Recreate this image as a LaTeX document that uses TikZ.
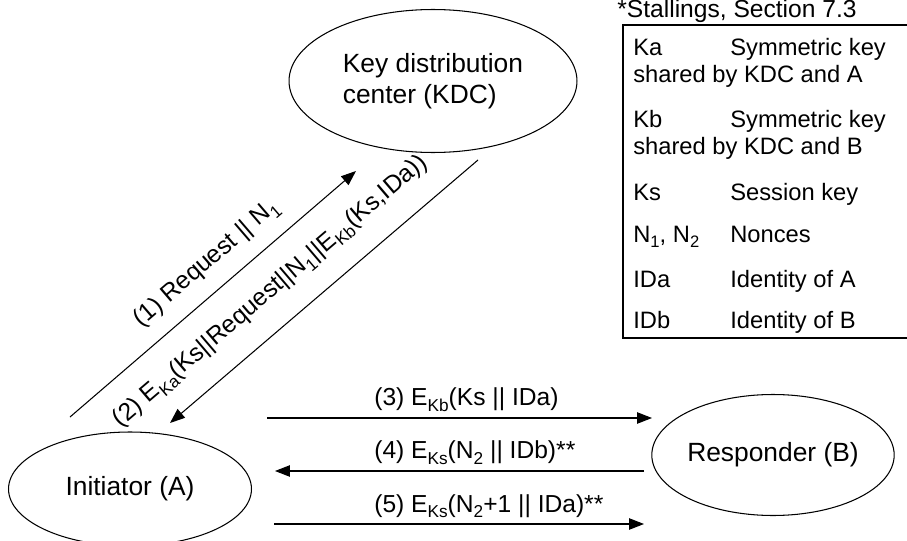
\documentclass[tikz,border=0pt]{standalone}
\usepackage{fontspec}
\setmainfont{Liberation Sans}
\usetikzlibrary{shapes.geometric,arrows.meta}
\newcommand{\indice}[1]{\raisebox{-0.45ex}{\scalebox{0.7}{#1}}}

\begin{document}
\begin{tikzpicture}[x=0.02cm,y=-0.02cm]
\tikzset{ovale/.style={draw, ellipse, inner sep=0pt, line width=0.6pt, font=\fontsize{15}{18}\selectfont},
  fleche/.style={line width=0.6pt, -{Triangle[length=8.5pt,width=6.5pt]}},
  etiq/.style={font=\fontsize{14}{17}\selectfont, inner xsep=0pt},
  case/.style={font=\fontsize{13.5}{16}\selectfont, inner sep=0pt, anchor=base west}}
\useasboundingbox (0,0) rectangle (907,541);
\clip (0,0) rectangle (907,541);
% les trois parties
\node[ovale, minimum width=5.76cm, minimum height=2.86cm, align=left] (KDC) at (433,81) {Key distribution\\center (KDC)};
\node[ovale, minimum width=4.86cm, minimum height=2.28cm] (A) at (130,489) {Initiator (A)};
\node[ovale, minimum width=4.6cm, minimum height=2.42cm] (B) at (773,455) {Responder (B)};
% extremites des messages
\coordinate (S1) at (70,417); \coordinate (E1) at (356,171);
\coordinate (S2) at (478,160); \coordinate (E2) at (170,423);
\coordinate (S3) at (267,418); \coordinate (E3) at (652,418);
\coordinate (S4) at (644,471); \coordinate (E4) at (275,471);
\coordinate (S5) at (274,524); \coordinate (E5) at (644,524);
\draw[fleche] (S1) -- node[etiq, sloped, above, pos=0.54, inner ysep=8.5pt] (L1) {(1) Request || N\indice{1}} (E1);
\draw[fleche, {Triangle[length=8.5pt,width=6.5pt]}-] (E2) -- node[etiq, sloped, above, pos=0.4, inner ysep=12.5pt] (L2) {(2) E\indice{Ka}(Ks||Request||N\indice{1}||E\indice{Kb}(Ks,IDa))} (S2);
\draw[fleche] (S3) -- (E3);
\draw[fleche] (S4) -- (E4);
\draw[fleche] (S5) -- (E5);
\node[etiq, inner sep=0pt, anchor=base west] (L3) at (374,405.5) {(3) E\indice{Kb}(Ks || IDa)};
\node[etiq, inner sep=0pt, anchor=base west] (L4) at (374,458.5) {(4) E\indice{Ks}(N\indice{2} || IDb)**};
\node[etiq, inner sep=0pt, anchor=base west] (L5) at (374,512) {(5) E\indice{Ks}(N\indice{2}+1 || IDa)**};
% legende
\node[case, font=\fontsize{14}{17}\selectfont] (T0) at (617,17) {*Stallings, Section 7.3};
\draw[line width=0.8pt] (623,25) rectangle (930,338);
\node[case] (T1) at (633,55) {Ka};
\node[case] (T2) at (730,55) {Symmetric key};
\node[case] (T3) at (633,82) {shared by KDC and A};
\node[case] (T4) at (633,127) {Kb};
\node[case] (T5) at (730,127) {Symmetric key};
\node[case] (T6) at (633,154) {shared by KDC and B};
\node[case] (T7) at (633,200) {Ks};
\node[case] (T8) at (730,200) {Session key};
\node[case] (T9) at (633,242) {N\indice{1}, N\indice{2}};
\node[case] (T10) at (730,242) {Nonces};
\node[case] (T11) at (633,287) {IDa};
\node[case] (T12) at (730,287) {Identity of A};
\node[case] (T13) at (633,328) {IDb};
\node[case] (T14) at (730,328) {Identity of B};
\end{tikzpicture}
\end{document}
